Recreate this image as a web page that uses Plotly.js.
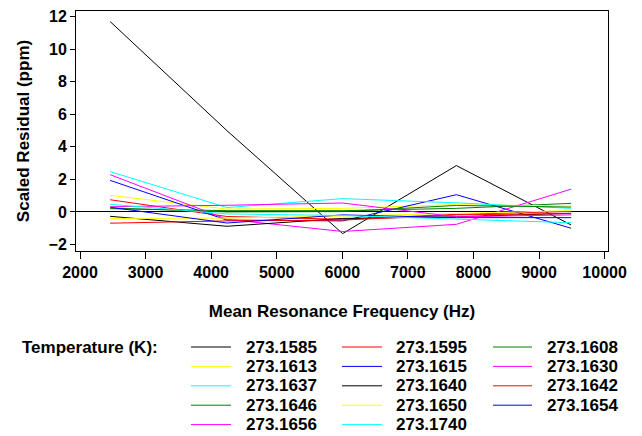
<!DOCTYPE html>
<html>
<head>
<meta charset="utf-8">
<script src="https://cdn.plot.ly/plotly-3.0.1.min.js"></script>
<style>html,body{margin:0;padding:0;background:#fff;}#chart{width:642px;height:436px;}</style>
</head>
<body>
<div id="chart"></div>
<script>
// ---- data ----
const freqHz = [2460, 4240, 6005, 7740, 9490];
const temperatures = ['273.1585','273.1595','273.1608','273.1613','273.1615','273.1630','273.1637',
                      '273.1640','273.1642','273.1646','273.1650','273.1654','273.1656','273.1740'];
const r1585 = [11.7, 5.0, -1.33, 2.85, -0.8];
const r1595 = [0.75, -0.28, -0.45, -0.15, 0.03];
const r1608 = [0.2, 0.08, 0.08, 0.22, 0.53];
const r1613 = [1.02, 0.18, 0.22, 0.45, 0.37];
const r1615 = [1.94, -0.5, -0.55, 1.06, -1.0];
const r1630 = [2.29, -0.45, -1.2, -0.76, 1.4];
const r1637 = [2.48, 0.27, 0.82, 0.56, 0.22];
const r1640 = [-0.27, -0.88, -0.4, -0.3, -0.08];
const r1642 = [-0.69, -0.55, -0.5, -0.18, -0.1];
const r1646 = [0.24, 0.0, 0.02, 0.4, 0.3];
const r1650 = [-0.4, -0.38, -0.25, -0.08, 0.08];
const r1654 = [0.29, -0.68, -0.18, -0.35, -0.35];
const r1656 = [0.32, 0.41, 0.55, -0.3, -0.18];
const r1740 = [0.47, -0.12, -0.22, -0.45, -0.66];
const residuals = [r1585, r1595, r1608, r1613, r1615, r1630, r1637,
                   r1640, r1642, r1646, r1650, r1654, r1656, r1740];

// ---- styles ----
const palette = ['#000000','#ff0000','#008000','#ffff00','#0000ff','#ff00ff','#00ffff'];
const FONT = 'Liberation Sans, Arial, sans-serif';

const W = 642, H = 436;
const M = {l: 76, r: 34, t: 11, b: 185};
const pw = W - M.l - M.r, ph = H - M.t - M.b;
const px2x = px => (px - M.l) / pw;
const py2y = py => (H - M.b - py) / ph;

const traces = residuals.map((vals, i) => ({
  type: 'scatter', mode: 'lines',
  x: freqHz, y: vals, name: temperatures[i],
  line: {color: palette[i % palette.length], width: 1},
  showlegend: false, hoverinfo: 'x+y+name'
}));

// manual legend (3 columns, row-major)
const colLineX0 = [191, 342, 493];
const colLineX1 = [231, 382, 532];
const colTextX = [244, 394, 545];
const rowY0 = 347, rowDy = 19.4;
const shapes = [], annotations = [];
temperatures.forEach((t, i) => {
  const c = i % 3, r = Math.floor(i / 3);
  const yy = py2y(rowY0 + r * rowDy);
  shapes.push({type: 'line', xref: 'paper', yref: 'paper',
    x0: px2x(colLineX0[c]), x1: px2x(colLineX1[c]), y0: yy, y1: yy,
    line: {color: palette[i % palette.length], width: 1}});
  annotations.push({xref: 'paper', yref: 'paper', x: px2x(colTextX[c]), y: yy,
    xanchor: 'left', yanchor: 'middle', showarrow: false, text: t,
    font: {family: FONT, size: 17, color: '#000', weight: 'bold'}});
});
annotations.push({xref: 'paper', yref: 'paper', x: px2x(20), y: py2y(rowY0),
  xanchor: 'left', yanchor: 'middle', showarrow: false, text: 'Temperature (K):',
  font: {family: FONT, size: 17, color: '#000', weight: 'bold'}});

const layout = {
  width: W, height: H,
  margin: M,
  paper_bgcolor: '#fff', plot_bgcolor: '#fff',
  showlegend: false,
  font: {family: FONT, size: 16, color: '#000'},
  xaxis: {
    range: [1939, 10052], tick0: 2000, dtick: 1000, tickmode: 'linear',
    tickformat: 'd',
    showgrid: false, zeroline: false,
    showline: true, mirror: true, linecolor: '#000', linewidth: 1,
    ticks: 'outside', ticklen: 7, tickcolor: '#000', tickwidth: 1,
    tickfont: {family: FONT, size: 16, weight: 'bold'},
    title: {text: 'Mean Resonance Frequency (Hz)', standoff: 24,
            font: {family: FONT, size: 17, weight: 'bold'}},
    automargin: false
  },
  yaxis: {
    range: [-2.4, 12.35], tick0: 0, dtick: 2, tickmode: 'linear',
    showgrid: false,
    zeroline: true, zerolinecolor: '#000', zerolinewidth: 1,
    showline: true, mirror: true, linecolor: '#000', linewidth: 1,
    ticks: 'outside', ticklen: 5, tickcolor: '#000', tickwidth: 1,
    tickfont: {family: FONT, size: 16, weight: 'bold'},
    title: {text: 'Scaled Residual (ppm)', standoff: 14,
            font: {family: FONT, size: 17, weight: 'bold'}},
    automargin: false
  },
  shapes: shapes,
  annotations: annotations
};

Plotly.newPlot('chart', traces, layout, {staticPlot: true, displayModeBar: false});
</script>
</body>
</html>
